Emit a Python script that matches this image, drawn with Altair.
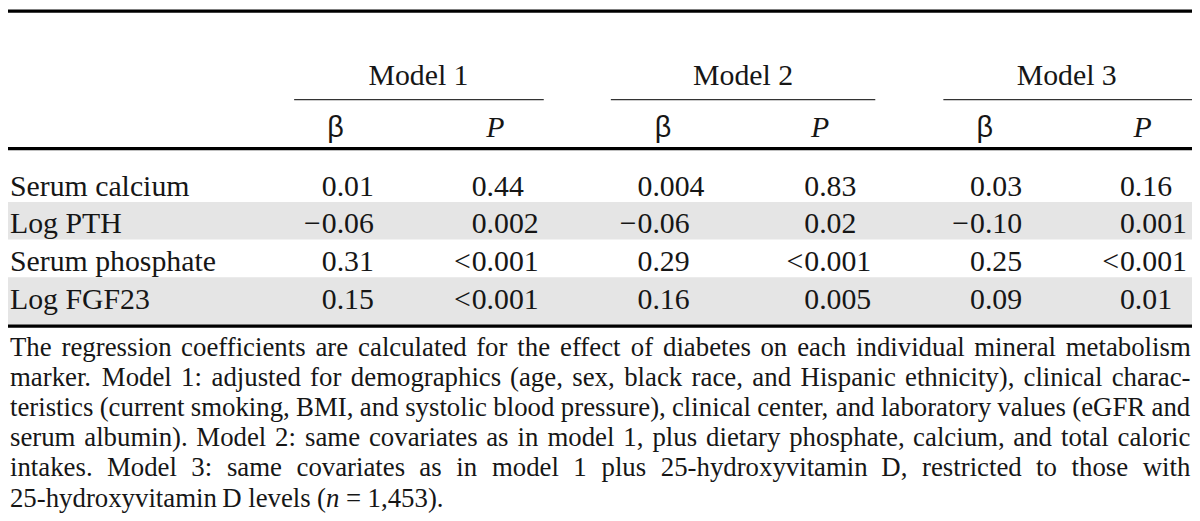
import altair as alt
import pandas as pd

# ---------------- data ----------------
markers = ["Serum calcium", "Log PTH", "Serum phosphate", "Log FGF23"]
models = ["Model 1", "Model 2", "Model 3"]
beta_m1 = ["0.01", "−0.06", "0.31", "0.15"]
p_m1 = ["0.44", "0.002", "<0.001", "<0.001"]
beta_m2 = ["0.004", "−0.06", "0.29", "0.16"]
p_m2 = ["0.83", "0.02", "<0.001", "0.005"]
beta_m3 = ["0.03", "−0.10", "0.25", "0.09"]
p_m3 = ["0.16", "0.001", "<0.001", "0.01"]
stat_beta = "β"
stat_p = "P"
caption_lines = [
    "The regression coefficients are calculated for the effect of diabetes on each individual mineral metabolism",
    "marker. Model 1: adjusted for demographics (age, sex, black race, and Hispanic ethnicity), clinical charac-",
    "teristics (current smoking, BMI, and systolic blood pressure), clinical center, and laboratory values (eGFR and",
    "serum albumin). Model 2: same covariates as in model 1, plus dietary phosphate, calcium, and total caloric",
    "intakes. Model 3: same covariates as in model 1 plus 25-hydroxyvitamin D, restricted to those with",
    "25-hydroxyvitamin D levels (*n* = 1,453).",
]

# ---------------- layout (reference pixel grid) ----------------
REF_W, REF_H = 1200, 521
FONT = "Liberation Serif"
GREEK_FONT = "Liberation Sans"
FS_TABLE = 30
FS_CAP = 27
INK = "#161616"
BAND = "#e5e5e5"

TOP_RULE_Y = 1.5
MODEL_BASE_Y = 77
UNDERLINE_Y = 92
SUBHEAD_BASE_Y = 130
HEAD_RULE_Y = 142
ROW_BASE_Y0 = 190
ROW_STEP = 38.5
BAND_UP, BAND_DOWN = 32, 6.5
BOTTOM_RULE_Y = 323.5
CAP_BASE_Y0 = 354
CAP_STEP = 30.8
CAP_X0, CAP_X1 = 2, 1198
LABEL_X = 2

MODEL_CENTER_X = [416, 745, 1073]
UNDERLINE_SPAN = [(290, 543), (611, 879), (948, 1200)]
BETA_HEAD_X = [332, 664, 990]
P_HEAD_X = [494, 823, 1150]
BETA_ANCHOR_X = [318, 638, 975]
P_ANCHOR_X = [470, 807, 1127]

# Times / Liberation Serif advance widths (1/1000 em) for justification
TW = {' ': 250, '!': 333, '"': 408, '(': 333, ')': 333, '*': 500, '+': 564, ',': 250,
      '-': 333, '.': 250, '/': 278, ':': 278, ';': 278, '<': 564, '=': 564, '>': 564,
      '?': 444}
for d in "0123456789":
    TW[d] = 500
TW.update(dict(zip("ABCDEFGHIJKLMNOPQRSTUVWXYZ",
                   [722, 667, 667, 722, 611, 556, 722, 722, 333, 389, 722, 611, 889,
                    722, 722, 556, 722, 667, 556, 611, 722, 722, 944, 722, 722, 611])))
TW.update(dict(zip("abcdefghijklmnopqrstuvwxyz",
                   [444, 500, 444, 500, 444, 333, 500, 500, 278, 278, 500, 278, 778,
                    500, 500, 500, 500, 333, 389, 278, 500, 500, 722, 500, 500, 444])))


def text_w(s, fs):
    return sum(TW.get(c, 500) for c in s) / 1000.0 * fs


# ---------------- tables for the marks ----------------
n_rows = len(markers)
row_base = [ROW_BASE_Y0 + i * ROW_STEP for i in range(n_rows)]

bands = []
for i in range(n_rows):
    if i % 2 == 1:
        y2 = BOTTOM_RULE_Y - 1.5 if i == n_rows - 1 else row_base[i] + BAND_DOWN
        bands.append(dict(x=0, x2=REF_W, y=row_base[i] - BAND_UP, y2=y2))
bands_df = pd.DataFrame(bands)

thick_df = pd.DataFrame([dict(x=0, x2=REF_W, y=yy) for yy in (TOP_RULE_Y, HEAD_RULE_Y, BOTTOM_RULE_Y)])
thin_df = pd.DataFrame([dict(x=a, x2=b, y=UNDERLINE_Y) for a, b in UNDERLINE_SPAN])

model_df = pd.DataFrame([dict(x=MODEL_CENTER_X[k], y=MODEL_BASE_Y, t=m) for k, m in enumerate(models)])
beta_head_df = pd.DataFrame([dict(x=x, y=SUBHEAD_BASE_Y, t=stat_beta) for x in BETA_HEAD_X])
p_head_df = pd.DataFrame([dict(x=x, y=SUBHEAD_BASE_Y, t=stat_p) for x in P_HEAD_X])
label_df = pd.DataFrame([dict(x=LABEL_X, y=row_base[i], t=m) for i, m in enumerate(markers)])

cols = [(beta_m1, BETA_ANCHOR_X[0]), (p_m1, P_ANCHOR_X[0]),
        (beta_m2, BETA_ANCHOR_X[1]), (p_m2, P_ANCHOR_X[1]),
        (beta_m3, BETA_ANCHOR_X[2]), (p_m3, P_ANCHOR_X[2])]
body, prefix = [], []
for vals, ax in cols:
    for i, v in enumerate(vals):
        if v[0] in "−<":
            prefix.append(dict(x=ax, y=row_base[i], t=v[0]))
            v = v[1:]
        body.append(dict(x=ax, y=row_base[i], t=v))
body_df = pd.DataFrame(body)
prefix_df = pd.DataFrame(prefix)

cap_roman, cap_italic = [], []
for li, line in enumerate(caption_lines):
    words = line.split(" ")
    segs_all, widths = [], []
    for w in words:
        parts = w.split("*")
        segs = [(p, k % 2 == 1) for k, p in enumerate(parts) if p]
        segs_all.append(segs)
        widths.append(sum(text_w(p, FS_CAP) for p, _ in segs))
    last = li == len(caption_lines) - 1
    if last or len(words) < 2:
        gap = 0.25 * FS_CAP
    else:
        gap = (CAP_X1 - CAP_X0 - sum(widths)) / (len(words) - 1)
    x = CAP_X0
    y = CAP_BASE_Y0 + li * CAP_STEP
    for segs, ww in zip(segs_all, widths):
        sx = x
        for p, it in segs:
            (cap_italic if it else cap_roman).append(dict(x=sx, y=y, t=p))
            sx += text_w(p, FS_CAP)
        x += ww + gap
cap_roman_df = pd.DataFrame(cap_roman)
cap_italic_df = pd.DataFrame(cap_italic)

# ---------------- chart ----------------
xs = alt.Scale(domain=[0, REF_W], nice=False, zero=False)
ys = alt.Scale(domain=[0, REF_H], nice=False, zero=False, reverse=True)
X = alt.X("x:Q", scale=xs, axis=None)
Y = alt.Y("y:Q", scale=ys, axis=None)


def text_layer(df, fs, align="left", style="normal", dx=0, font=FONT):
    return alt.Chart(df).mark_text(
        align=align, baseline="alphabetic", font=font, fontSize=fs,
        fontStyle=style, color=INK, dx=dx
    ).encode(x=X, y=Y, text="t:N")


bands_layer = alt.Chart(bands_df).mark_rect(color=BAND).encode(
    x=X, x2="x2:Q", y=Y, y2="y2:Q")
thick_layer = alt.Chart(thick_df).mark_rule(color="#000000", strokeWidth=3.2).encode(
    x=X, x2="x2:Q", y=Y)
thin_layer = alt.Chart(thin_df).mark_rule(color="#333333", strokeWidth=1.3).encode(
    x=X, x2="x2:Q", y=Y)

chart = alt.layer(
    bands_layer,
    thick_layer,
    thin_layer,
    text_layer(model_df, FS_TABLE, align="center"),
    text_layer(beta_head_df, FS_TABLE - 1, align="center", font=GREEK_FONT),
    text_layer(p_head_df, FS_TABLE, align="center", style="italic"),
    text_layer(label_df, FS_TABLE),
    text_layer(body_df, FS_TABLE),
    text_layer(prefix_df, FS_TABLE, align="right", dx=-1),
    text_layer(cap_roman_df, FS_CAP),
    text_layer(cap_italic_df, FS_CAP, style="italic"),
).properties(
    width=REF_W - 8, height=REF_H - 8,
    autosize=alt.AutoSizeParams(type="none"),
    padding=0,
    background="white",
).configure_view(stroke=None)

chart.save("out.html", embed_options={"renderer": "svg", "actions": False})
